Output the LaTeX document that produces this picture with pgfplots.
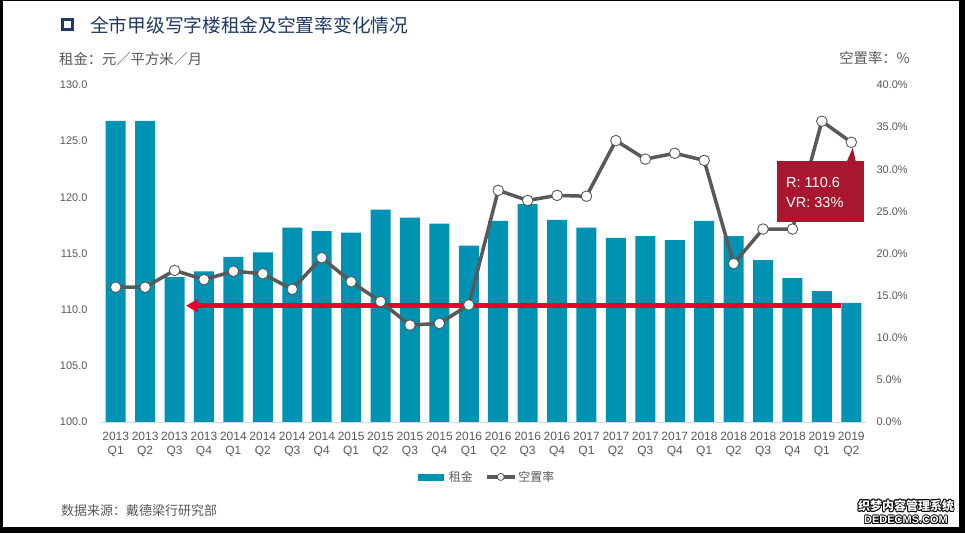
\documentclass[border=0pt]{standalone}
\usepackage{fontspec}
\setmainfont{Liberation Sans}
\newfontfamily\cjk{Noto Sans CJK SC}
\usepackage{pgfplots}
\usepackage{pgfplotstable}
\pgfplotsset{compat=1.18}
\usetikzlibrary{arrows.meta}

\definecolor{barc}{RGB}{0,146,178}
\definecolor{linec}{RGB}{89,89,89}
\definecolor{txtc}{RGB}{89,89,89}
\definecolor{navy}{RGB}{31,56,100}
\definecolor{arrowc}{RGB}{232,0,45}
\definecolor{annc}{RGB}{168,23,47}
\definecolor{axisc}{RGB}{217,217,217}

% rent (yuan/m2/month) and vacancy rate (%) by quarter, 2013Q1 .. 2019Q2
\pgfplotstableread{
i rent vac
0 126.8 16.0
1 126.8 16.0
2 112.9 18.0
3 113.4 16.9
4 114.7 17.9
5 115.1 17.6
6 117.3 15.75
7 117.0 19.5
8 116.85 16.65
9 118.9 14.3
10 118.2 11.5
11 117.65 11.7
12 115.7 13.9
13 117.9 27.5
14 119.4 26.3
15 118.0 26.9
16 117.3 26.8
17 116.4 33.4
18 116.55 31.2
19 116.2 31.9
20 117.9 31.05
21 116.55 18.8
22 114.4 22.9
23 112.8 22.9
24 111.65 35.7
25 110.6 33.2
}\data

\pgfplotsset{
  base/.style={
    at={(101pt,-422pt)}, anchor=south west,
    scale only axis, width=765pt, height=337pt,
    xmin=-0.5, xmax=25.5,
    axis line style={draw=none},
    tick style={draw=none},
    ticklabel style={font=\fontsize{11}{13}\selectfont, text=txtc},
  }
}

\begin{document}
\begin{tikzpicture}
\fill[black] (0,0) rectangle (965pt,-533pt);
\fill[white] (3pt,-1pt) rectangle (959pt,-527pt);
\useasboundingbox (0,0) rectangle (965pt,-533pt);

% title and unit labels
\draw[navy, line width=3pt] (62.5pt,-19.5pt) rectangle (72pt,-29pt);
\node[anchor=west, inner sep=0pt, text=navy, font={\cjk\fontsize{18.7}{20}\selectfont}] at (90pt,-25pt) {全市甲级写字楼租金及空置率变化情况};
\node[anchor=west, inner sep=0pt, text=txtc, font={\cjk\fontsize{14.3}{16}\selectfont}] at (59pt,-59pt) {租金：元／平方米／月};
\node[anchor=east, inner sep=0pt, text=txtc, font={\cjk\fontsize{14.3}{16}\selectfont}] at (910pt,-58pt) {空置率：\%};

\begin{axis}[base, ybar, bar width=20pt,
  ymin=100, ymax=130,
  ytick={100,105,...,130},
  yticklabels={100.0,105.0,110.0,115.0,120.0,125.0,130.0},
  yticklabel style={xshift=-10pt},
  xtick={0,...,25},
  xticklabels={{2013\\Q1},{2013\\Q2},{2013\\Q3},{2013\\Q4},
    {2014\\Q1},{2014\\Q2},{2014\\Q3},{2014\\Q4},
    {2015\\Q1},{2015\\Q2},{2015\\Q3},{2015\\Q4},
    {2016\\Q1},{2016\\Q2},{2016\\Q3},{2016\\Q4},
    {2017\\Q1},{2017\\Q2},{2017\\Q3},{2017\\Q4},
    {2018\\Q1},{2018\\Q2},{2018\\Q3},{2018\\Q4},
    {2019\\Q1},{2019\\Q2}},
  xticklabel style={align=center, font=\fontsize{12}{14}\selectfont, yshift=-2pt},
]
\addplot[fill=barc, draw=none, bar shift=0pt] table[x=i, y=rent] {\data};
\draw[axisc, line width=1pt] (axis cs:-0.5,100) -- (axis cs:25.5,100);
\draw[arrowc, line width=4.5pt, -{Triangle[length=12pt,width=13pt]}]
  (axis cs:24.66,110.35) -- (axis cs:2.39,110.35);
\end{axis}

\begin{axis}[base,
  ymin=0, ymax=40,
  ytick={0,5,...,40},
  yticklabels={0.0\%,5.0\%,10.0\%,15.0\%,20.0\%,25.0\%,30.0\%,35.0\%,40.0\%},
  yticklabel pos=right,
  yticklabel style={xshift=7pt},
  xtick=\empty,
  legend style={at={(0.5046,-0.163)}, anchor=center, draw=none, fill=none,
    legend columns=2, font={\cjk\fontsize{12}{14}\selectfont}, text=txtc,
    /tikz/every even column/.append style={column sep=10pt}},
]
\addlegendimage{legend image code/.code={\fill[barc] (0pt,-3pt) rectangle (25pt,3pt);
    \path (29pt,0pt);}}
\addlegendentry{租金}
\addplot[linec, line width=3.5pt, line join=round, mark=*, mark size=5.3pt,
  mark options={fill=white, draw=linec, line width=0.9pt},
  legend image code/.code={\draw[linec, line width=3.5pt] (0pt,0pt) -- (28pt,0pt);
    \draw[linec, fill=white, line width=0.8pt] (14pt,0pt) circle (3.5pt);}]
  table[x=i, y=vac] {\data};
\addlegendentry{空置率}
\end{axis}

% callout for the last quarter
\fill[annc] (776.7pt,-160.7pt) rectangle (864pt,-221.7pt);
\fill[annc] (847pt,-161pt) -- (852.7pt,-148pt) -- (855.7pt,-161pt) -- cycle;
\node[anchor=west, inner sep=0pt, text=white, font=\fontsize{14.5}{16}\selectfont] at (786pt,-182.7pt) {R: 110.6};
\node[anchor=west, inner sep=0pt, text=white, font=\fontsize{14.5}{16}\selectfont] at (786pt,-202.7pt) {VR: 33\%};

% source
\node[anchor=west, inner sep=0pt, text=txtc, font={\cjk\fontsize{13}{15}\selectfont}] at (61pt,-511pt) {数据来源：戴德梁行研究部};

% watermark
\foreach \dx/\dy in {0.8/0,-0.8/0,0/0.8,0/-0.8,0.6/0.6,-0.6/0.6,0.6/-0.6,-0.6/-0.6}{
  \node[inner sep=0pt, text=black, font={\cjk\bfseries\fontsize{12}{13}\selectfont}] at ([shift={(\dx pt,\dy pt)}]906pt,-506pt) {织梦内容管理系统};
  \node[inner sep=0pt, text=black, font={\bfseries\fontsize{11}{12}\selectfont}] at ([shift={(\dx pt,\dy pt)}]906pt,-520pt) {DEDECMS.COM};
}
\node[inner sep=0pt, text=white, font={\cjk\bfseries\fontsize{12}{13}\selectfont}] at (906pt,-506pt) {织梦内容管理系统};
\node[inner sep=0pt, text=white, font={\bfseries\fontsize{11}{12}\selectfont}] at (906pt,-520pt) {DEDECMS.COM};
\end{tikzpicture}
\end{document}
